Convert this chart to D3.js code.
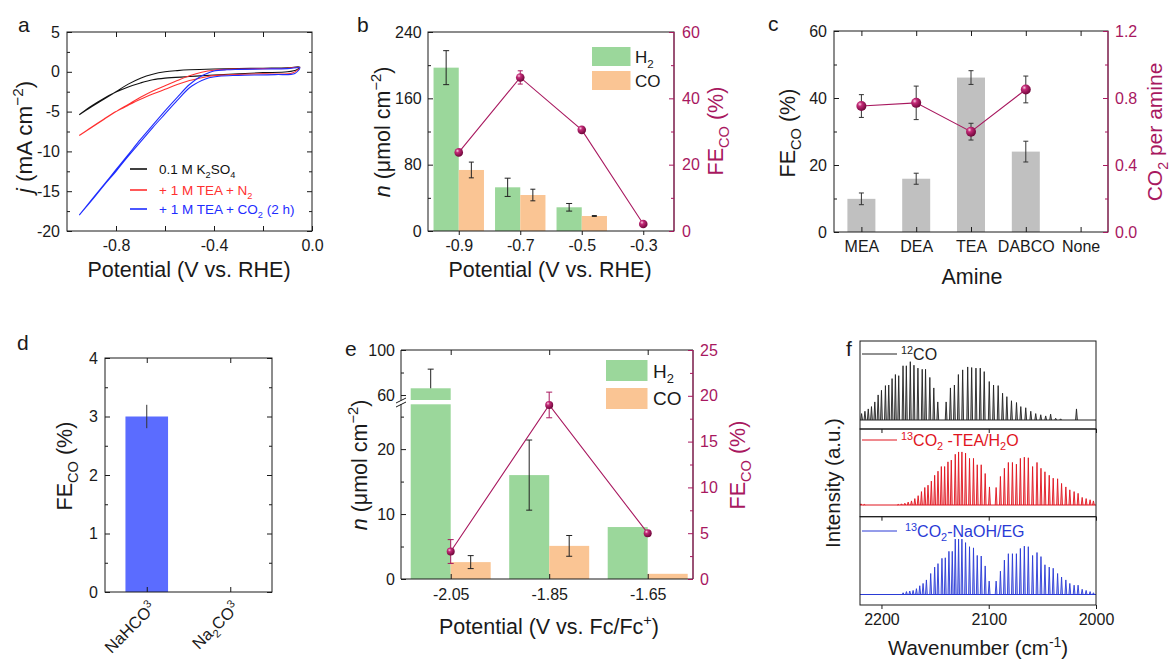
<!DOCTYPE html>
<html>
<head>
<meta charset="utf-8">
<script src="https://cdn.jsdelivr.net/npm/d3@7"></script>
<style>
body { margin: 0; background: #fff; }
svg { display: block; font-family: "Liberation Sans", Arial, sans-serif; }
</style>
</head>
<body>
<svg id="fig" width="1170" height="660"></svg>
<script>
// ---------- data ----------
// a: cyclic voltammograms, [potential V, j mA cm-2]
var cvBlack = [[-0.95,-5.4],[-0.9,-4.4],[-0.85,-3.45],[-0.8,-2.5],[-0.75,-1.55],[-0.7,-0.8],[-0.65,-0.3],[-0.6,0.0],
  [-0.55,0.15],[-0.5,0.25],[-0.4,0.35],[-0.3,0.4],[-0.2,0.45],[-0.1,0.5],[-0.05,0.6],
  [-0.06,0.3],[-0.1,0.0],[-0.2,-0.1],[-0.3,-0.25],[-0.4,-0.4],[-0.5,-0.6],[-0.6,-0.8],[-0.65,-1.0],
  [-0.7,-1.4],[-0.75,-1.9],[-0.8,-2.55],[-0.85,-3.35],[-0.9,-4.3],[-0.95,-5.4]];
var cvRed = [[-0.95,-8.0],[-0.9,-7.0],[-0.85,-6.0],[-0.8,-5.0],[-0.75,-4.1],[-0.7,-3.2],[-0.65,-2.4],[-0.6,-1.75],
  [-0.55,-1.1],[-0.5,-0.5],[-0.45,-0.05],[-0.4,0.2],[-0.3,0.35],[-0.2,0.4],[-0.1,0.45],[-0.05,0.55],
  [-0.08,-0.15],[-0.2,-0.25],[-0.35,-0.4],[-0.42,-0.55],[-0.45,-0.75],[-0.5,-1.1],[-0.55,-1.6],[-0.6,-2.2],
  [-0.65,-2.8],[-0.7,-3.45],[-0.75,-4.2],[-0.8,-5.0],[-0.85,-5.95],[-0.9,-6.95],[-0.95,-8.0]];
var cvBlue = [[-0.95,-18.0],[-0.9,-16.1],[-0.85,-14.2],[-0.8,-12.3],[-0.75,-10.4],[-0.7,-8.5],[-0.65,-6.7],[-0.6,-4.9],
  [-0.55,-3.2],[-0.5,-1.6],[-0.45,-0.5],[-0.42,-0.1],[-0.4,0.1],[-0.35,0.25],[-0.3,0.3],[-0.2,0.35],[-0.1,0.4],[-0.05,0.5],
  [-0.07,-0.2],[-0.15,-0.35],[-0.3,-0.45],[-0.38,-0.55],[-0.42,-0.75],[-0.45,-1.1],[-0.5,-2.0],[-0.55,-3.6],
  [-0.6,-5.3],[-0.65,-7.0],[-0.7,-8.8],[-0.75,-10.6],[-0.8,-12.5],[-0.85,-14.3],[-0.9,-16.2],[-0.95,-18.0]];

// b: products vs potential (RHE)
var potB = [-0.9, -0.7, -0.5, -0.3];
var h2B = [197, 52.7, 28.6, 0];
var h2BErr = [20.5, 11, 4.6, 0];
var coB = [73.6, 43.4, 18.1, 0];
var coBErr = [9.5, 7, 0.5, 0];
var feB = [23.7, 46.3, 30.5, 2.1];
var feBErr = [0, 2, 0, 0];

// c: amines
var amines = ["MEA", "DEA", "TEA", "DABCO", "None"];
var feC = [9.9, 15.9, 46.1, 24.0, 0];
var feCErr = [1.75, 1.65, 2.05, 3.1, 0];
var co2C = [0.752, 0.771, 0.599, 0.851];
var co2CErr = [0.068, 0.10, 0.05, 0.08];

// d: salts
var salts = ["NaHCO3", "Na2CO3"];
var feD = [3.0, 0];
var feDErr = [0.2, 0];

// e: products vs potential (Fc/Fc+)
var potE = [-2.05, -1.85, -1.65];
var h2E = [66, 16, 8];
var h2EErr = [17, 5.4, 0];
var coE = [2.6, 5.1, 0.8];
var coEErr = [1.0, 1.6, 0];
var feE = [3.0, 19.0, 5.0];
var feEErr = [1.3, 1.4, 0];

// f: IR line spectra, peak wavenumber and relative intensity
var wn12 = [2218.5,2215.4,2212.3,2209.3,2206.2,2203.1,2200.0,2196.3,2193.2,2190.1,2187.0,2183.9,2179.9,2176.8,2173.1,
  2169.7,2166.0,2162.0,2158.9,2154.9,2151.2,2147.5,2139.7,2135.7,2132.0,2128.3,2124.3,2119.6,2115.9,2111.9,2107.9,
  2104.2,2099.5,2095.5,2091.2,2087.1,2083.1,2078.8,2074.1,2070.1,2065.5,2060.8,2056.2,2051.5,2046.9,2042.3,2037.6,
  2033.0,2018.2];
var int12 = [0.11,0.15,0.19,0.23,0.31,0.43,0.51,0.59,0.60,0.71,0.78,0.76,0.93,0.93,1.0,0.94,0.89,0.87,0.87,0.73,0.55,
  0.31,0.31,0.55,0.60,0.78,0.86,0.91,0.90,0.89,0.89,0.83,0.66,0.60,0.59,0.46,0.40,0.33,0.30,0.23,0.21,0.15,0.11,0.09,
  0.07,0.10,0.03,0.02,0.19];
var wnTEA = [2219.1,2216.0,2184.4,2181.3,2178.2,2175.1,2172.0,2168.9,2165.8,2162.7,2159.6,2156.6,2153.5,2150.4,2147.3,
  2144.2,2141.1,2138.0,2134.9,2131.2,2128.1,2125.0,2121.6,2117.9,2114.2,2110.7,2107.0,2103.3,2099.3,2093.1,2089.1,
  2085.4,2081.7,2077.9,2074.2,2070.5,2066.8,2063.1,2059.1,2055.0,2051.3,2047.6,2043.6,2039.9,2035.8,2032.1,2028.1,
  2024.4,2020.4,2016.7,2012.9,2009.2,2005.5,2002.4];
var intTEA = [0.02,0.01,0.01,0.02,0.03,0.05,0.07,0.11,0.16,0.23,0.30,0.34,0.41,0.51,0.58,0.66,0.66,0.74,0.77,0.87,0.91,
  0.91,0.89,0.80,0.80,0.69,0.69,0.54,0.31,0.30,0.49,0.63,0.73,0.73,0.70,0.80,0.82,0.81,0.66,0.73,0.63,0.57,0.51,0.46,
  0.45,0.37,0.31,0.26,0.23,0.20,0.13,0.11,0.09,0.07];
var wnNaOH = [2179.8,2176.7,2173.6,2170.5,2167.4,2164.3,2161.2,2158.1,2154.1,2150.4,2147.3,2143.6,2140.5,2137.1,2134.0,
  2131.2,2128.1,2125.0,2121.6,2117.9,2114.2,2110.7,2107.0,2103.3,2099.6,2093.1,2089.1,2085.4,2081.7,2077.9,2074.2,
  2070.5,2066.8,2063.1,2059.1,2055.0,2051.3,2047.6,2043.6,2039.9,2035.8,2032.1,2028.1,2024.4,2020.4,2016.7,2012.9,
  2009.2,2005.5,2002.4];
var intNaOH = [0.03,0.05,0.06,0.07,0.10,0.15,0.19,0.25,0.36,0.47,0.53,0.62,0.63,0.74,0.74,0.95,0.95,0.95,0.89,0.82,0.80,
  0.67,0.66,0.49,0.23,0.23,0.40,0.59,0.70,0.70,0.70,0.79,0.83,0.82,0.67,0.72,0.65,0.51,0.47,0.45,0.36,0.30,0.25,0.19,
  0.16,0.16,0.09,0.07,0.05,0.03];

// ---------- styles ----------
var INK = "#1a1a1a", MAG = "#a8185f", GREEN = "#9bd79b", ORANGE = "#fac594", GREY = "#c0c0c0", BLUEBAR = "#5b6cff";
var TICK = 16, TITLE = 21.5;

var svg = d3.select("#fig");
var defs = svg.append("defs");
var grad = defs.append("radialGradient").attr("id", "ball").attr("cx", "35%").attr("cy", "32%").attr("r", "70%");
grad.append("stop").attr("offset", 0).attr("stop-color", "#f6cfe1");
grad.append("stop").attr("offset", 0.3).attr("stop-color", "#c42a78");
grad.append("stop").attr("offset", 1).attr("stop-color", "#6e0639");

// text with sub/superscript parts
function txt(g, x, y, parts, o) {
    o = o || {};
    var fs = o.size || TICK;
    var t = g.append("text").attr("x", x).attr("y", y).attr("font-size", fs)
        .attr("text-anchor", o.anchor || "start").attr("fill", o.fill || INK);
    if (o.rotate != null) t.attr("transform", "rotate(" + o.rotate + "," + x + "," + y + ")");
    var shift = 0;
    parts.forEach(function(p) {
        var s = typeof p === "string" ? {t: p} : p;
        var target = s.sub ? fs * 0.28 : s.sup ? -fs * 0.4 : 0;
        var ts = t.append("tspan").text(s.t).attr("dy", target - shift);
        if (s.sub || s.sup) ts.attr("font-size", fs * 0.68);
        if (s.it) ts.attr("font-style", "italic");
        shift = target;
    });
    return t;
}

// axis: ticks (negative size = inward), optional labels
function axis(gen, scale, tx, ty, vals, size, pad, fmt, color) {
    var a = svg.append("g").attr("transform", "translate(" + tx + "," + ty + ")")
        .call(gen(scale).tickValues(vals).tickSize(size).tickPadding(pad).tickFormat(fmt || function() { return ""; }));
    a.select(".domain").remove();
    a.attr("font-family", null).attr("font-size", TICK);
    a.selectAll("line").attr("stroke", color || INK).attr("stroke-width", 1);
    a.selectAll("text").attr("fill", color || INK);
    return a;
}

function frame(x0, x1, y0, y1) {
    svg.append("rect").attr("x", x0).attr("y", y0).attr("width", x1 - x0).attr("height", y1 - y0)
        .attr("fill", "none").attr("stroke", INK).attr("stroke-width", 1);
}

function errBar(g, x, yLo, yHi, cap, color) {
    g.append("line").attr("x1", x).attr("x2", x).attr("y1", yLo).attr("y2", yHi).attr("stroke", color).attr("stroke-width", 1);
    [yLo, yHi].forEach(function(yy) {
        g.append("line").attr("x1", x - cap / 2).attr("x2", x + cap / 2).attr("y1", yy).attr("y2", yy)
            .attr("stroke", color).attr("stroke-width", 1);
    });
}

function fix(n) { return function(v) { return v.toFixed(n); }; }

// ---------- a ----------
(function() {
    var x = d3.scaleLinear().domain([-1, 0]).range([67, 312]);
    var y = d3.scaleLinear().domain([-20, 5]).range([231, 32]);
    var g = svg.append("g");
    var line = d3.line().x(function(d) { return x(d[0]); }).y(function(d) { return y(d[1]); }).curve(d3.curveCatmullRom);
    [[cvBlack, "#111"], [cvRed, "#ff3030"], [cvBlue, "#1f2dff"]].forEach(function(c) {
        g.append("path").datum(c[0]).attr("d", line).attr("fill", "none").attr("stroke", c[1]).attr("stroke-width", 1.1);
    });
    var ymaj = [5, 0, -5, -10, -15, -20], ymin = [2.5, -2.5, -7.5, -12.5, -17.5];
    axis(d3.axisLeft, y, 67, 0, ymaj, -5, 7, function(v) { return String(v); });
    axis(d3.axisLeft, y, 67, 0, ymin, -3, 0);
    axis(d3.axisRight, y, 312, 0, ymaj, -5, 0);
    axis(d3.axisRight, y, 312, 0, ymin, -3, 0);
    axis(d3.axisBottom, x, 0, 231, [-0.8, -0.4, 0.0], -5, 8.5, fix(1));
    axis(d3.axisBottom, x, 0, 231, [-0.6, -0.2], -5, 0);
    axis(d3.axisTop, x, 0, 32, [-0.8, -0.6, -0.4, -0.2], -5, 0);
    frame(67, 312, 32, 231);
    // legend
    var leg = [[["0.1 M K", {t: "2", sub: true}, "SO", {t: "4", sub: true}], "#111", 169],
               [["+ 1 M TEA + N", {t: "2", sub: true}], "#ff3030", 190],
               [["+ 1 M TEA + CO", {t: "2", sub: true}, " (2 h)"], "#1f2dff", 209]];
    leg.forEach(function(l) {
        g.append("line").attr("x1", 130).attr("x2", 147).attr("y1", l[2]).attr("y2", l[2]).attr("stroke", l[1]).attr("stroke-width", 1.6);
        txt(g, 159, l[2] + 5, l[0], {size: 13.5, fill: l[1]});
    });
    txt(svg, 18, 32, ["a"], {size: 21});
    txt(svg, 189, 277, ["Potential (V vs. RHE)"], {size: TITLE, anchor: "middle"});
    txt(svg, 32, 137, [{t: "j", it: true}, " (mA cm", {t: "\u22122", sup: true}, ")"], {size: 22.5, anchor: "middle", rotate: -90});
})();

// ---------- b ----------
(function() {
    var x = d3.scaleLinear().domain([-1, -0.2]).range([428, 674]);
    var y = d3.scaleLinear().domain([0, 240]).range([231, 32]);
    var y2 = d3.scaleLinear().domain([0, 60]).range([231, 32]);
    var g = svg.append("g"), w = 0.082;
    potB.forEach(function(p, i) {
        if (h2B[i] > 0) g.append("rect").attr("x", x(p - w)).attr("width", x(p) - x(p - w)).attr("y", y(h2B[i]))
            .attr("height", y(0) - y(h2B[i])).attr("fill", GREEN);
        if (coB[i] > 0) g.append("rect").attr("x", x(p)).attr("width", x(p + w) - x(p)).attr("y", y(coB[i]))
            .attr("height", y(0) - y(coB[i])).attr("fill", ORANGE);
    });
    potB.forEach(function(p, i) {
        if (h2BErr[i] > 0) errBar(g, x(p - w / 2), y(h2B[i] - h2BErr[i]), y(h2B[i] + h2BErr[i]), 6, "#222");
        if (coBErr[i] > 0) errBar(g, x(p + w / 2), y(coB[i] - coBErr[i]), y(coB[i] + coBErr[i]), 5, "#222");
    });
    var line = d3.line().x(function(d, i) { return x(potB[i]); }).y(function(d) { return y2(d); });
    g.append("path").datum(feB).attr("d", line).attr("fill", "none").attr("stroke", MAG).attr("stroke-width", 1.1);
    potB.forEach(function(p, i) {
        if (feBErr[i] > 0) errBar(g, x(p), y2(feB[i] - feBErr[i]), y2(feB[i] + feBErr[i]), 5, MAG);
        g.append("circle").attr("cx", x(p)).attr("cy", y2(feB[i])).attr("r", 4.3).attr("fill", "url(#ball)");
    });
    axis(d3.axisLeft, y, 428, 0, [0, 80, 160, 240], -5, 6.3, function(v) { return String(v); });
    axis(d3.axisLeft, y, 428, 0, [40, 120, 200], -3, 0);
    axis(d3.axisBottom, x, 0, 231, potB, 4, 4.5, fix(1));
    frame(428, 674, 32, 231);
    svg.append("line").attr("x1", 674).attr("x2", 674).attr("y1", 32).attr("y2", 231).attr("stroke", MAG);
    axis(d3.axisRight, y2, 674, 0, [0, 20, 40, 60], -5, 8, function(v) { return String(v); }, MAG);
    axis(d3.axisRight, y2, 674, 0, [10, 30, 50], -3, 0, null, MAG);
    // legend
    g.append("rect").attr("x", 592).attr("y", 47).attr("width", 38.5).attr("height", 19).attr("fill", GREEN);
    g.append("rect").attr("x", 592).attr("y", 71).attr("width", 38.5).attr("height", 19).attr("fill", ORANGE);
    txt(g, 635, 63, ["H", {t: "2", sub: true}], {size: 17});
    txt(g, 635, 87, ["CO"], {size: 17});
    txt(svg, 357, 32, ["b"], {size: 21});
    txt(svg, 550, 277, ["Potential (V vs. RHE)"], {size: TITLE, anchor: "middle"});
    txt(svg, 390, 132, [{t: "n", it: true}, " (\u03bcmol cm", {t: "\u22122", sup: true}, ")"], {size: TITLE, anchor: "middle", rotate: -90});
    txt(svg, 723, 131, ["FE", {t: "CO", sub: true}, " (%)"], {size: TITLE, anchor: "middle", rotate: -90, fill: MAG});
})();

// ---------- c ----------
(function() {
    var x = d3.scalePoint().domain(amines).range([834, 1108]).padding(0.5);
    var y = d3.scaleLinear().domain([0, 60]).range([232, 31]);
    var y2 = d3.scaleLinear().domain([0, 1.2]).range([232, 31]);
    var g = svg.append("g"), bw = 28;
    amines.forEach(function(a, i) {
        if (feC[i] > 0) {
            g.append("rect").attr("x", x(a) - bw / 2).attr("width", bw).attr("y", y(feC[i]))
                .attr("height", y(0) - y(feC[i])).attr("fill", GREY);
            errBar(g, x(a), y(feC[i] - feCErr[i]), y(feC[i] + feCErr[i]), 5, "#333");
        }
    });
    var pts = amines.slice(0, co2C.length);
    var line = d3.line().x(function(d, i) { return x(pts[i]); }).y(function(d) { return y2(d); });
    g.append("path").datum(co2C).attr("d", line).attr("fill", "none").attr("stroke", MAG).attr("stroke-width", 1.1);
    pts.forEach(function(a, i) {
        errBar(g, x(a), y2(co2C[i] - co2CErr[i]), y2(co2C[i] + co2CErr[i]), 5, "#333");
        g.append("circle").attr("cx", x(a)).attr("cy", y2(co2C[i])).attr("r", 5).attr("fill", "url(#ball)");
    });
    axis(d3.axisLeft, y, 834, 0, [0, 20, 40, 60], -5, 7, function(v) { return String(v); });
    axis(d3.axisLeft, y, 834, 0, [10, 30, 50], -3, 0);
    axis(d3.axisBottom, x, 0, 232, amines, -5, 8.6, function(v) { return v; });
    axis(d3.axisTop, x, 0, 31, amines, -5, 0);
    frame(834, 1108, 31, 232);
    svg.append("line").attr("x1", 1108).attr("x2", 1108).attr("y1", 31).attr("y2", 232).attr("stroke", MAG);
    axis(d3.axisRight, y2, 1108, 0, [0, 0.4, 0.8, 1.2], -5, 7, fix(1), MAG);
    axis(d3.axisRight, y2, 1108, 0, [0.2, 0.6, 1.0], -3, 0, null, MAG);
    txt(svg, 768, 31, ["c"], {size: 21});
    txt(svg, 972, 284, ["Amine"], {size: TITLE, anchor: "middle"});
    txt(svg, 795, 133, ["FE", {t: "CO", sub: true}, " (%)"], {size: TITLE, anchor: "middle", rotate: -90});
    txt(svg, 1162, 132, ["CO", {t: "2", sub: true}, " per amine"], {size: 21, anchor: "middle", rotate: -90, fill: MAG});
})();

// ---------- d ----------
(function() {
    var x = d3.scalePoint().domain(salts).range([105, 272]).padding(0.5);
    var y = d3.scaleLinear().domain([0, 4]).range([592, 358]);
    var g = svg.append("g"), bw = 42.6;
    salts.forEach(function(s, i) {
        if (feD[i] > 0) {
            g.append("rect").attr("x", x(s) - bw / 2).attr("width", bw).attr("y", y(feD[i]))
                .attr("height", y(0) - y(feD[i])).attr("fill", BLUEBAR);
            errBar(g, x(s), y(feD[i] - feDErr[i]), y(feD[i] + feDErr[i]), 0, "#333");
        }
    });
    var maj = [0, 1, 2, 3, 4], mnr = [0.5, 1.5, 2.5, 3.5];
    axis(d3.axisLeft, y, 105, 0, maj, -5, 7, function(v) { return String(v); });
    axis(d3.axisLeft, y, 105, 0, mnr, -3, 0);
    axis(d3.axisRight, y, 272, 0, maj, -5, 0);
    axis(d3.axisRight, y, 272, 0, mnr, -3, 0);
    axis(d3.axisBottom, x, 0, 592, salts, -5, 0);
    axis(d3.axisTop, x, 0, 358, salts, -5, 0);
    frame(105, 272, 358, 592);
    var labs = [["NaHCO", {t: "3", sup: true}], ["Na", {t: "2", sub: true}, "CO", {t: "3", sup: true}]];
    salts.forEach(function(s, i) {
        txt(svg, x(s) + 10, 609, labs[i], {size: 16.5, anchor: "end", rotate: -45});
    });
    txt(svg, 17, 350, ["d"], {size: 21});
    txt(svg, 72, 466, ["FE", {t: "CO", sub: true}, " (%)"], {size: TITLE, anchor: "middle", rotate: -90});
})();

// ---------- e ----------
(function() {
    var x = d3.scaleLinear().domain([-2.05, -1.65]).range([450.7, 647.7]);
    var yLo = d3.scaleLinear().domain([0, 26.9]).range([579, 404.3]);
    var yHi = d3.scaleLinear().domain([55.6, 100]).range([400, 350]);
    var y2 = d3.scaleLinear().domain([0, 25]).range([579, 350]);
    function y(v) { return v <= 26.9 ? yLo(v) : yHi(Math.max(v, 55.6)); }
    var g = svg.append("g"), bw = 40;
    potE.forEach(function(p, i) {
        var v = h2E[i], xl = x(p) - bw;
        g.append("rect").attr("x", xl).attr("width", bw).attr("y", yLo(Math.min(v, 26.9)))
            .attr("height", 579 - yLo(Math.min(v, 26.9))).attr("fill", GREEN);
        if (v > 55.6) g.append("rect").attr("x", xl).attr("width", bw).attr("y", yHi(v))
            .attr("height", yHi(55.6) - yHi(v)).attr("fill", GREEN);
        g.append("rect").attr("x", x(p)).attr("width", bw).attr("y", yLo(coE[i]))
            .attr("height", 579 - yLo(coE[i])).attr("fill", ORANGE);
    });
    potE.forEach(function(p, i) {
        var v = h2E[i], e = h2EErr[i];
        if (e > 0) {
            var lo = v - e;
            if (lo > 26.9 && lo < 55.6) {
                // lower end falls in the axis break: draw the upper half only
                errBar(g, x(p) - bw / 2, y(v), y(v + e), 0, "#222");
                g.append("line").attr("x1", x(p) - bw / 2 - 3).attr("x2", x(p) - bw / 2 + 3)
                    .attr("y1", y(v + e)).attr("y2", y(v + e)).attr("stroke", "#222");
            } else {
                errBar(g, x(p) - bw / 2, y(lo), y(v + e), 6, "#222");
            }
        }
        if (coEErr[i] > 0) errBar(g, x(p) + bw / 2, yLo(coE[i] - coEErr[i]), yLo(coE[i] + coEErr[i]), 6, "#222");
    });
    var line = d3.line().x(function(d, i) { return x(potE[i]); }).y(function(d) { return y2(d); });
    g.append("path").datum(feE).attr("d", line).attr("fill", "none").attr("stroke", MAG).attr("stroke-width", 1.1);
    potE.forEach(function(p, i) {
        if (feEErr[i] > 0) errBar(g, x(p), y2(feE[i] - feEErr[i]), y2(feE[i] + feEErr[i]), 6, MAG);
        g.append("circle").attr("cx", x(p)).attr("cy", y2(feE[i])).attr("r", 4).attr("fill", "url(#ball)");
    });
    // frame with broken left axis
    svg.append("path").attr("d", "M401,400.5V350H693V579H401V404").attr("fill", "none").attr("stroke", INK);
    svg.append("line").attr("x1", 693).attr("x2", 693).attr("y1", 350).attr("y2", 579).attr("stroke", MAG);
    [400.5, 404.5].forEach(function(yy) {
        svg.append("line").attr("x1", 396).attr("x2", 406).attr("y1", yy + 2.5).attr("y2", yy - 2.5)
            .attr("stroke", INK).attr("stroke-width", 1);
    });
    var fmt = function(v) { return String(v); };
    axis(d3.axisLeft, yLo, 401, 0, [0, 10, 20], -5, 6, fmt);
    axis(d3.axisLeft, yLo, 401, 0, [5, 15, 25], -3, 0);
    axis(d3.axisLeft, yHi, 401, 0, [60, 100], -5, 6, fmt);
    axis(d3.axisLeft, yHi, 401, 0, [80], -3, 0);
    axis(d3.axisBottom, x, 0, 579, potE, -5, 9.4, fix(2));
    axis(d3.axisTop, x, 0, 350, potE, -5, 0);
    axis(d3.axisRight, y2, 693, 0, [0, 5, 10, 15, 20, 25], -5, 7, fmt, MAG);
    axis(d3.axisRight, y2, 693, 0, [2.5, 7.5, 12.5, 17.5, 22.5], -3, 0, null, MAG);
    // legend
    g.append("rect").attr("x", 606).attr("y", 360).attr("width", 41.5).attr("height", 21).attr("fill", GREEN);
    g.append("rect").attr("x", 606).attr("y", 388).attr("width", 41.5).attr("height", 21).attr("fill", ORANGE);
    txt(g, 653, 378, ["H", {t: "2", sub: true}], {size: 19});
    txt(g, 653, 405, ["CO"], {size: 19});
    txt(svg, 345, 356, ["e"], {size: 21});
    txt(svg, 549, 634, ["Potential (V vs. Fc/Fc", {t: "+", sup: true}, ")"], {size: TITLE, anchor: "middle"});
    txt(svg, 367, 465, [{t: "n", it: true}, " (\u03bcmol cm", {t: "\u22122", sup: true}, ")"], {size: TITLE, anchor: "middle", rotate: -90});
    txt(svg, 745, 465, ["FE", {t: "CO", sub: true}, " (%)"], {size: TITLE, anchor: "middle", rotate: -90, fill: MAG});
})();

// ---------- f ----------
(function() {
    var x = d3.scaleLinear().domain([2220, 2000]).range([860, 1096]);
    var panels = [
        {wn: wn12, it: int12, color: "#222", top: 341, bot: 429, base: 420,
         label: [{t: "12", sup: true}, "CO"], lx: 901, ly: 360, ly0: 354},
        {wn: wnTEA, it: intTEA, color: "#e0141e", top: 429, bot: 516.7, base: 505,
         label: [{t: "13", sup: true}, "CO", {t: "2", sub: true}, " -TEA/H", {t: "2", sub: true}, "O"], lx: 901, ly: 446, ly0: 440},
        {wn: wnNaOH, it: intNaOH, color: "#2a3bd6", top: 516.7, bot: 605, base: 594.5,
         label: [{t: "13", sup: true}, "CO", {t: "2", sub: true}, "-NaOH/EG"], lx: 905, ly: 537, ly0: 531}
    ];
    panels.forEach(function(p) {
        var y = d3.scaleLinear().domain([0, 1]).range([p.base, p.base - 58.3]);
        var g = svg.append("g");
        g.append("line").attr("x1", x(2220)).attr("x2", x(2000)).attr("y1", y(0)).attr("y2", y(0))
            .attr("stroke", p.color).attr("stroke-width", 1);
        g.selectAll("path.pk").data(p.wn).enter().append("path").attr("class", "pk")
            .attr("d", function(d, i) {
                var xx = x(d);
                return "M" + (xx - 0.9) + "," + y(0) + "L" + xx + "," + y(p.it[i]) + "L" + (xx + 0.9) + "," + y(0);
            })
            .attr("fill", p.color).attr("fill-opacity", 0.35).attr("stroke", p.color).attr("stroke-width", 0.9);
        g.append("line").attr("x1", 862).attr("x2", 897).attr("y1", p.ly0).attr("y2", p.ly0).attr("stroke", p.color);
        txt(g, p.lx, p.ly, p.label, {size: 16, fill: p.color});
        svg.append("rect").attr("x", 860).attr("y", p.top).attr("width", 236).attr("height", p.bot - p.top)
            .attr("fill", "none").attr("stroke", INK);
        axis(d3.axisBottom, x, 0, p.bot, [2200, 2100, 2000], 4, 4.6, p.bot === 605 ? function(v) { return String(v); } : null);
    });
    txt(svg, 846, 356, ["f"], {size: 21});
    txt(svg, 978, 655, ["Wavenumber (cm", {t: "-1", sup: true}, ")"], {size: 20.5, anchor: "middle"});
    txt(svg, 840, 483, ["Intensity (a.u.)"], {size: 20.5, anchor: "middle", rotate: -90});
})();
</script>
</body>
</html>
